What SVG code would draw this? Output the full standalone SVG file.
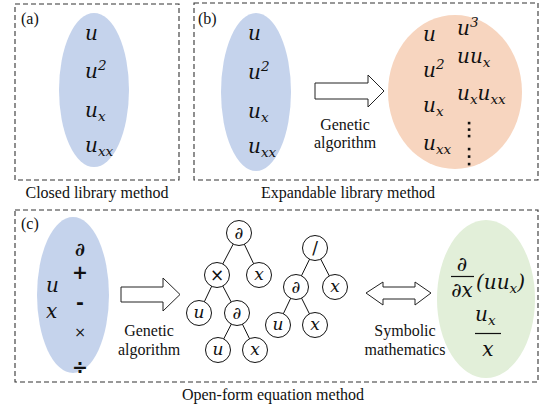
<svg xmlns="http://www.w3.org/2000/svg" width="542" height="412" viewBox="0 0 542 412">
<defs>
<style>
.box{fill:none;stroke:#333;stroke-width:1.1;stroke-dasharray:5,3}
.arrow{fill:#fff;stroke:#222;stroke-width:1}
.node circle{fill:#fff;stroke:#111;stroke-width:1}
.edge{stroke:#111;stroke-width:1}
</style>
</defs>
<g id="panel-a">
<rect class="box" x="15" y="4" width="164" height="176"/>
<text style="font-family:'Liberation Serif',serif;font-size:16px" fill="#111" x="21" y="24">(a)</text>
<ellipse cx="94" cy="90" rx="35" ry="77" fill="#c5d3ec"/>
<g style="font-family:'DejaVu Serif',serif;font-style:italic;font-size:20px" fill="#111">
<text x="85" y="40">u</text>
<text x="85" y="78">u<tspan font-size="13.5" dy="-8">2</tspan></text>
<text x="85" y="117">u<tspan font-size="13.5" dy="4">x</tspan></text>
<text x="85" y="152">u<tspan font-size="13.5" dy="4">xx</tspan></text>
</g>
<text style="font-family:'Liberation Serif',serif;font-size:16px" fill="#111" text-anchor="middle" x="97" y="198">Closed library method</text>
</g>
<g id="panel-b">
<rect class="box" x="194" y="3" width="344" height="177"/>
<text style="font-family:'Liberation Serif',serif;font-size:16px" fill="#111" x="198" y="24">(b)</text>
<ellipse cx="256" cy="92" rx="35" ry="79" fill="#c5d3ec"/>
<g style="font-family:'DejaVu Serif',serif;font-style:italic;font-size:20px" fill="#111">
<text x="248" y="40">u</text>
<text x="248" y="79">u<tspan font-size="13.5" dy="-8">2</tspan></text>
<text x="248" y="118">u<tspan font-size="13.5" dy="4">x</tspan></text>
<text x="248" y="153">u<tspan font-size="13.5" dy="4">xx</tspan></text>
</g>
<g style="font-family:'Liberation Serif',serif;font-size:16px" fill="#111" text-anchor="middle">
<text x="345" y="130">Genetic</text>
<text x="345" y="148">algorithm</text>
</g>
<ellipse cx="455" cy="92" rx="67" ry="77" fill="#f7d5bf"/>
<g style="font-family:'DejaVu Serif',serif;font-style:italic;font-size:20px" fill="#111">
<text x="423" y="41">u</text>
<text x="457" y="35">u<tspan font-size="13.5" dy="-8">3</tspan></text>
<text x="423" y="77">u<tspan font-size="13.5" dy="-8">2</tspan></text>
<text x="457" y="63">uu<tspan font-size="13.5" dy="4">x</tspan></text>
<text x="457" y="100">u<tspan font-size="13.5" dy="4">x</tspan><tspan dy="-4">u</tspan><tspan font-size="13.5" dy="4">xx</tspan></text>
<text x="423" y="112">u<tspan font-size="13.5" dy="4">x</tspan></text>
<text x="423" y="150">u<tspan font-size="13.5" dy="4">xx</tspan></text>
</g>
<g fill="#111">
<rect x="467.8" y="121.8" width="2.6" height="2.6"/>
<rect x="467.8" y="128.3" width="2.6" height="2.6"/>
<rect x="467.8" y="134.8" width="2.6" height="2.6"/>
<rect x="467.8" y="147.8" width="2.6" height="2.6"/>
<rect x="467.8" y="155.3" width="2.6" height="2.6"/>
<rect x="467.8" y="162.8" width="2.6" height="2.6"/>
</g>
<text style="font-family:'Liberation Serif',serif;font-size:16px" fill="#111" text-anchor="middle" x="348" y="198">Expandable library method</text>
</g>
<g id="panel-c">
<rect class="box" x="15" y="210" width="523" height="172"/>
<text style="font-family:'Liberation Serif',serif;font-size:16px" fill="#111" x="21" y="229">(c)</text>
<ellipse cx="73" cy="295" rx="36" ry="78" fill="#c5d3ec"/>
<text style="font-family:'DejaVu Serif',serif;font-style:italic;font-weight:bold;font-size:19px" fill="#111" text-anchor="middle" x="80" y="256">∂</text>
<g style="font-family:'DejaVu Sans',sans-serif;font-weight:bold;font-size:19px" fill="#111" text-anchor="middle">
<text x="80" y="279">+</text>
<text x="80" y="309">-</text>
<text x="80" y="374">÷</text>
</g>
<text style="font-family:'DejaVu Sans',sans-serif;font-size:14px" fill="#111" text-anchor="middle" x="80" y="337">×</text>
<g style="font-family:'DejaVu Serif',serif;font-style:italic;font-size:20px" fill="#111">
<text x="46" y="292">u</text>
<text x="46" y="318">x</text>
</g>
<g style="font-family:'Liberation Serif',serif;font-size:16px" fill="#111" text-anchor="middle">
<text x="149" y="336">Genetic</text>
<text x="149" y="355">algorithm</text>
<text x="405" y="336">Symbolic</text>
<text x="405" y="355">mathematics</text>
</g>
<ellipse cx="486" cy="299" rx="49" ry="79" fill="#e2efd9"/>
<g style="font-family:'DejaVu Serif',serif;font-style:italic;font-size:20px" fill="#111">
<text x="462" y="271" text-anchor="middle">∂</text>
<text x="462" y="297" text-anchor="middle">∂x</text>
<text x="476" y="289">(uu<tspan font-size="13.5" dy="4">x</tspan><tspan dy="-4">)</tspan></text>
<text x="475" y="321">u<tspan font-size="13.5" dy="4">x</tspan></text>
<text x="488" y="356" text-anchor="middle">x</text>
</g>
<line x1="451" y1="276.5" x2="474" y2="276.5" stroke="#111" stroke-width="1.2"/>
<line x1="475" y1="333.5" x2="501" y2="333.5" stroke="#111" stroke-width="1.2"/>
<text style="font-family:'Liberation Serif',serif;font-size:16px" fill="#111" text-anchor="middle" x="273" y="400">Open-form equation method</text>
</g>
<g id="connectors">
<path class="arrow" d="M315,83 H368 V75 L384,91 L368,107 V99 H315 Z"/>
<path class="arrow" d="M121,287 H163 V278 L180,294.5 L163,311 V302 H121 Z"/>
<path class="arrow" d="M366,293 L383,282 V287 H415 V282 L431,293 L415,305 V299 H383 V305 Z"/>
<g class="edge">
<line x1="239" y1="233" x2="217" y2="275"/>
<line x1="239" y1="233" x2="259" y2="275"/>
<line x1="217" y1="275" x2="199" y2="313"/>
<line x1="217" y1="275" x2="237" y2="313"/>
<line x1="237" y1="313" x2="218" y2="350"/>
<line x1="237" y1="313" x2="255" y2="350"/>
<line x1="315" y1="248" x2="296" y2="287"/>
<line x1="315" y1="248" x2="335" y2="287"/>
<line x1="296" y1="287" x2="278" y2="325"/>
<line x1="296" y1="287" x2="315" y2="325"/>
</g>
</g>
<g id="tree1" style="font-family:'DejaVu Serif',serif;font-style:italic;font-size:17px" fill="#111" text-anchor="middle">
<g class="node" id="t1-d1"><circle cx="239" cy="233" r="12.5"/><text x="239" y="239">∂</text></g>
<g class="node" id="t1-mul"><circle cx="217" cy="275" r="12.5"/><text x="217" y="281" style="font-style:normal;font-family:'DejaVu Sans',sans-serif">×</text></g>
<g class="node" id="t1-x1"><circle cx="259" cy="275" r="12.5"/><text x="259" y="280">x</text></g>
<g class="node" id="t1-u1"><circle cx="199" cy="313" r="12.5"/><text x="199" y="318">u</text></g>
<g class="node" id="t1-d2"><circle cx="237" cy="313" r="12.5"/><text x="237" y="319">∂</text></g>
<g class="node" id="t1-u2"><circle cx="218" cy="350" r="12.5"/><text x="218" y="355">u</text></g>
<g class="node" id="t1-x2"><circle cx="255" cy="350" r="12.5"/><text x="255" y="355">x</text></g>
</g>
<g id="tree2" style="font-family:'DejaVu Serif',serif;font-style:italic;font-size:17px" fill="#111" text-anchor="middle">
<g class="node" id="t2-div"><circle cx="315" cy="248" r="12.5"/><text x="315" y="254" style="font-style:normal;font-family:'DejaVu Sans',sans-serif">/</text></g>
<g class="node" id="t2-d"><circle cx="296" cy="287" r="12.5"/><text x="296" y="293">∂</text></g>
<g class="node" id="t2-x1"><circle cx="335" cy="287" r="12.5"/><text x="335" y="292">x</text></g>
<g class="node" id="t2-u"><circle cx="278" cy="325" r="12.5"/><text x="278" y="330">u</text></g>
<g class="node" id="t2-x2"><circle cx="315" cy="325" r="12.5"/><text x="315" y="330">x</text></g>
</g>
</svg>
